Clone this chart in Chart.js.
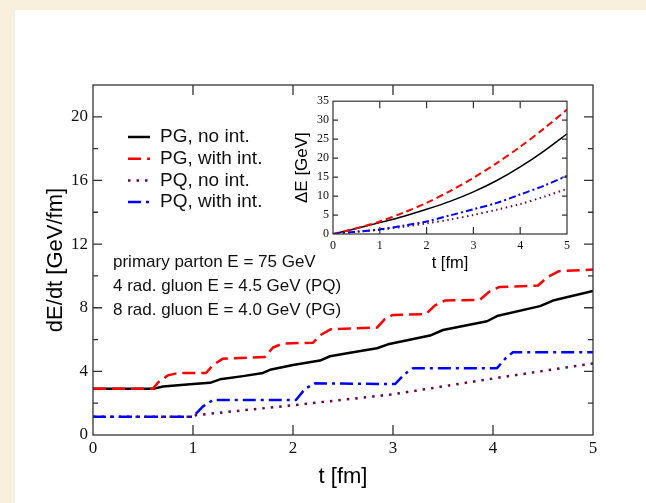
<!DOCTYPE html>
<html>
<head>
<meta charset="utf-8">
<script src="https://cdn.jsdelivr.net/npm/chart.js@4/dist/chart.umd.min.js"></script>
<style>
  html, body { margin: 0; padding: 0; }
  body { width: 646px; height: 503px; background: #f8f0dd; position: relative; overflow: hidden; }
  #paper { position: absolute; left: 15px; top: 10px; right: 0; bottom: 0; background: #fff; }
  #main { position: absolute; left: 0; top: 0; }
  #inset { position: absolute; left: 280px; top: 90px; }
</style>
</head>
<body>
<div id="paper"></div>
<canvas id="main" width="646" height="503"></canvas>
<canvas id="inset" width="300" height="190"></canvas>
<script>
// dE/dt [GeV/fm] against t [fm]
const pgNoInt = [[0, 2.9], [0.6, 2.9], [0.7, 3.05], [1.0, 3.2], [1.17, 3.28], [1.27, 3.5], [1.5, 3.7], [1.7, 3.9],
  [1.77, 4.1], [2.0, 4.4], [2.27, 4.68], [2.37, 4.95], [2.6, 5.2], [2.84, 5.45], [2.95, 5.7], [3.37, 6.25],
  [3.5, 6.6], [3.94, 7.15], [4.05, 7.5], [4.47, 8.1], [4.6, 8.45], [5.0, 9.05]];
const pgWithInt = [[0, 2.9], [0.6, 2.9], [0.65, 3.3], [0.75, 3.75], [0.85, 3.9], [1.13, 3.9], [1.2, 4.4], [1.3, 4.8],
  [1.72, 4.9], [1.8, 5.5], [1.9, 5.75], [2.2, 5.8], [2.28, 6.3], [2.38, 6.65], [2.84, 6.75], [2.92, 7.3],
  [3.0, 7.55], [3.33, 7.6], [3.42, 8.15], [3.52, 8.45], [3.87, 8.5], [3.96, 9.0], [4.06, 9.3], [4.45, 9.4],
  [4.54, 9.9], [4.66, 10.3], [5.0, 10.4]];
const pqNoInt = [[0, 1.15], [1.0, 1.15], [1.03, 1.25], [2.0, 1.87], [3.0, 2.56], [4.05, 3.6], [5.0, 4.5]];
const pqWithInt = [[0, 1.15], [1.0, 1.15], [1.1, 1.8], [1.2, 2.2], [2.03, 2.2], [2.12, 2.9], [2.22, 3.25],
  [3.02, 3.2], [3.12, 3.85], [3.2, 4.2], [4.04, 4.2], [4.13, 4.85], [4.2, 5.2], [5.0, 5.2]];

// Delta E [GeV] in the inset
const insetT = [0, 0.5, 1, 1.5, 2, 2.5, 3, 3.5, 4, 4.5, 5];
const insetPgNoInt = [0, 1.45, 3.0, 4.6, 6.5, 8.6, 11.1, 14.1, 17.7, 21.8, 26.4];
const insetPgWithInt = [0, 1.5, 3.3, 5.6, 8.2, 11.3, 14.8, 18.7, 23.0, 27.7, 32.8];
const insetPqNoInt = [0, 0.6, 1.15, 1.9, 2.8, 3.8, 5.0, 6.4, 7.9, 9.8, 11.9];
const insetPqWithInt = [0, 0.6, 1.2, 2.2, 3.3, 4.9, 6.5, 8.2, 10.4, 12.7, 15.3];

const seriesLabels = ['PG, no int.', 'PG, with int.', 'PQ, no int.', 'PQ, with int.'];
const notes = ['primary parton E = 75 GeV', '4 rad. gluon E = 4.5 GeV (PQ)', '8 rad. gluon E = 4.0 GeV (PG)'];

const serif = '"Liberation Serif", "Times New Roman", serif';
const sans = '"Liberation Sans", Arial, sans-serif';

const toXY = pts => pts.map(p => ({ x: p[0], y: p[1] }));
const insetXY = vals => vals.map((v, i) => ({ x: insetT[i], y: v }));

// box round the plot plus inward ticks on all four sides
const frameTicks = {
  id: 'frameTicks',
  afterDatasetsDraw(chart, args, o) {
    const { ctx, chartArea: a, scales: { x, y } } = chart;
    ctx.save();
    ctx.strokeStyle = '#333';
    ctx.lineWidth = o.width;
    ctx.setLineDash([]);
    ctx.strokeRect(a.left, a.top, a.right - a.left, a.bottom - a.top);
    ctx.beginPath();
    o.xTicks.forEach(v => {
      const px = x.getPixelForValue(v);
      ctx.moveTo(px, a.bottom); ctx.lineTo(px, a.bottom - o.xLen);
      ctx.moveTo(px, a.top); ctx.lineTo(px, a.top + o.xLen);
    });
    o.yMajor.forEach(v => {
      const py = y.getPixelForValue(v);
      ctx.moveTo(a.left, py); ctx.lineTo(a.left + o.yLen, py);
      ctx.moveTo(a.right, py); ctx.lineTo(a.right - o.yLen, py);
    });
    o.yMinor.forEach(v => {
      const py = y.getPixelForValue(v);
      ctx.moveTo(a.left, py); ctx.lineTo(a.left + o.yMinorLen, py);
      ctx.moveTo(a.right, py); ctx.lineTo(a.right - o.yMinorLen, py);
    });
    ctx.stroke();
    ctx.restore();
  }
};

// legend with line samples and the text notes, inside the plot
const lineLegend = {
  id: 'lineLegend',
  afterDraw(chart, args, o) {
    const ctx = chart.ctx;
    ctx.save();
    ctx.textBaseline = 'middle';
    ctx.fillStyle = '#111';
    ctx.font = '19px ' + sans;
    chart.data.datasets.forEach((ds, i) => {
      const yy = o.top + i * o.rowGap;
      ctx.strokeStyle = ds.borderColor;
      ctx.lineWidth = ds.borderWidth;
      ctx.setLineDash(ds.borderDash || []);
      ctx.beginPath();
      ctx.moveTo(o.left, yy);
      ctx.lineTo(o.left + o.lineLen, yy);
      ctx.stroke();
      ctx.fillText(ds.label, o.left + o.lineLen + 10, yy);
    });
    ctx.font = '17px ' + sans;
    notes.forEach((t, i) => ctx.fillText(t, o.noteLeft, o.noteTop + i * o.noteGap));
    ctx.restore();
  }
};

new Chart(document.getElementById('main'), {
  type: 'line',
  data: {
    datasets: [
      { label: seriesLabels[0], data: toXY(pgNoInt), borderColor: '#000000', borderWidth: 2.5, order: 3 },
      { label: seriesLabels[1], data: toXY(pgWithInt), borderColor: '#ff0000', borderWidth: 2.5, borderDash: [13, 6], order: 1 },
      { label: seriesLabels[2], data: toXY(pqNoInt), borderColor: '#670748', borderWidth: 2.5, borderDash: [2.5, 6], order: 2 },
      { label: seriesLabels[3], data: toXY(pqWithInt), borderColor: '#0000ff', borderWidth: 2.5, borderDash: [13, 5, 3, 5], order: 0 }
    ]
  },
  options: {
    responsive: false,
    animation: false,
    layout: { padding: { left: 0, top: 85, right: 53, bottom: 0 } },
    elements: { point: { radius: 0 }, line: { tension: 0, borderCapStyle: 'butt', borderJoinStyle: 'round' } },
    plugins: {
      legend: { display: false },
      tooltip: { enabled: false },
      frameTicks: { width: 1.3, xTicks: [1, 2, 3, 4], xLen: 10, yMajor: [4, 8, 12, 16, 20], yMinor: [2, 6, 10, 14, 18], yLen: 9, yMinorLen: 5 },
      lineLegend: { left: 128, lineLen: 22, top: 137, rowGap: 21.7, noteLeft: 113, noteTop: 262, noteGap: 24.2 }
    },
    scales: {
      x: {
        type: 'linear', min: 0, max: 5,
        grid: { display: false, drawTicks: false },
        border: { display: false },
        ticks: { stepSize: 1, padding: 3, autoSkip: false, color: '#111', font: { family: serif, size: 17 } },
        title: { display: true, text: 't [fm]', color: '#000', font: { family: sans, size: 22 }, padding: { top: 0, bottom: 13 } },
        afterFit(s) { s.height = 68; }
      },
      y: {
        type: 'linear', min: 0, max: 22,
        grid: { display: false, drawTicks: false },
        border: { display: false },
        ticks: { stepSize: 2, padding: 5, autoSkip: false, color: '#111', font: { family: serif, size: 17 },
          callback: v => (v % 4 === 0 ? v : '') },
        title: { display: true, text: 'dE/dt [GeV/fm]', color: '#000', font: { family: sans, size: 22 }, padding: { top: 43, bottom: 0 } },
        afterFit(s) { s.width = 93; }
      }
    }
  },
  plugins: [frameTicks, lineLegend]
});

new Chart(document.getElementById('inset'), {
  type: 'line',
  data: {
    datasets: [
      { label: seriesLabels[0], data: insetXY(insetPgNoInt), borderColor: '#000000', borderWidth: 1.5, order: 3 },
      { label: seriesLabels[1], data: insetXY(insetPgWithInt), borderColor: '#ff0000', borderWidth: 2, borderDash: [7, 4], order: 1 },
      { label: seriesLabels[2], data: insetXY(insetPqNoInt), borderColor: '#670748', borderWidth: 2, borderDash: [1.5, 3.5], order: 2 },
      { label: seriesLabels[3], data: insetXY(insetPqWithInt), borderColor: '#0000ff', borderWidth: 2, borderDash: [7, 3, 2, 3], order: 0 }
    ]
  },
  options: {
    responsive: false,
    animation: false,
    layout: { padding: { left: 0, top: 7, right: 13, bottom: 0 } },
    elements: { point: { radius: 0 }, line: { tension: 0.3, borderCapStyle: 'butt' } },
    plugins: {
      legend: { display: false },
      tooltip: { enabled: false },
      frameTicks: { width: 1.2, xTicks: [1, 2, 3, 4], xLen: 7, yMajor: [5, 10, 15, 20, 25, 30], yMinor: [], yLen: 5, yMinorLen: 0 }
    },
    scales: {
      x: {
        type: 'linear', min: 0, max: 5,
        grid: { display: false, drawTicks: false },
        border: { display: false },
        ticks: { stepSize: 1, padding: 5, autoSkip: false, color: '#111', font: { family: serif, size: 12 } },
        title: { display: true, text: 't [fm]', color: '#000', font: { family: sans, size: 16.5 }, padding: { top: 0, bottom: 7 } },
        afterFit(s) { s.height = 46; }
      },
      y: {
        type: 'linear', min: 0, max: 35,
        grid: { display: false, drawTicks: false },
        border: { display: false },
        ticks: { stepSize: 5, padding: 4, autoSkip: false, color: '#111', font: { family: serif, size: 12 } },
        title: { display: true, text: 'ΔE [GeV]', color: '#000', font: { family: sans, size: 17 }, padding: { top: 12, bottom: 0 } },
        afterFit(s) { s.width = 53; }
      }
    }
  },
  plugins: [frameTicks]
});
</script>
</body>
</html>
